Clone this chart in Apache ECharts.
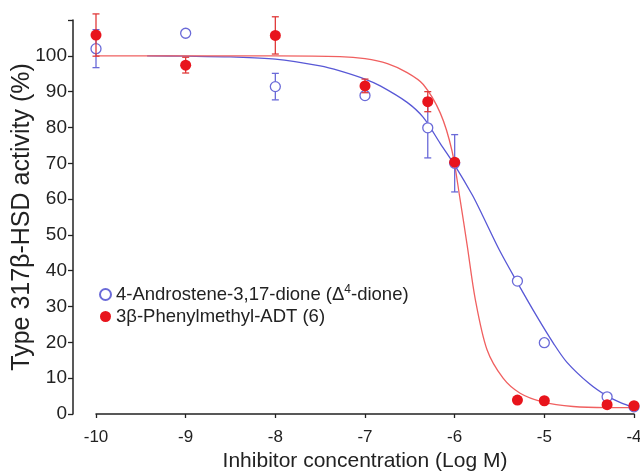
<!DOCTYPE html>
<html>
<head>
<meta charset="utf-8">
<script src="https://cdn.jsdelivr.net/npm/echarts@6/dist/echarts.min.js"></script>
<style>
html, body { margin: 0; background: #fff; }
#chart { width: 640px; height: 475px; }
</style>
</head>
<body>
<div id="chart"></div>
<script>
// measured points (log M) and % activity
const logConc = [-10, -9, -8, -7, -6.3, -6, -5.3, -5, -4.3, -4]
const dioneActivity = [102, 106.3, 91.4, 88.9, 79.9, 70, 37.1, 19.9, 4.8, 2]
const dioneError = [5.3, 0, 3.7, 0, 8.4, 8, 0, 0, 0, 0]
const adtActivity = [105.8, 97.4, 105.7, 91.6, 87.2, 70.3, 3.9, 3.7, 2.6, 2.3]
const adtError = [5.9, 2.2, 5.2, 1.9, 2.8, 0, 0, 0, 0, 0]

// fitted curves
const dioneCurveX = [-9.43, -9, -8.5, -8, -7.5, -7.28, -7, -6.83, -6.53, -6.35, -6.16, -6, -5.8, -5.69, -5.5, -5.31, -5.08, -4.9, -4.75, -4.5, -4.3, -4.15, -4]
const dioneCurveY = [100, 99.9, 99.7, 99.1, 97.2, 95.8, 93.5, 91.6, 87, 82.8, 75.5, 69.5, 61, 55.5, 45.7, 37.1, 27.1, 19.8, 14.5, 8.5, 5, 3.2, 1.8]
const adtCurveX = [-10, -9, -8, -7.28, -7, -6.75, -6.53, -6.35, -6.16, -6.03, -5.94, -5.86, -5.77, -5.64, -5.46, -5.27, -5.02, -4.68, -4.3, -4]
const adtCurveY = [100, 100, 100, 99.8, 99.2, 97.8, 95.3, 92, 84, 73.5, 60, 47, 32, 18, 10, 5.8, 3.4, 2.1, 1.8, 1.8]

const yTicks = [0, 10, 20, 30, 40, 50, 60, 70, 80, 90, 100]

const blue = '#6a6ad8'
const red = '#e8141c'
const font = '"Liberation Sans", Arial, sans-serif'

const pairs = (xs, ys) => xs.map((x, i) => [x, ys[i]])

function errorBars (values, errors, color, z) {
  return {
    type: 'custom',
    clip: false,
    z: z,
    silent: true,
    data: logConc.map((x, i) => [x, values[i] - errors[i], values[i] + errors[i]])
      .filter((d, i) => errors[i] > 0),
    encode: { x: 0, y: [1, 2] },
    renderItem (params, api) {
      const x = api.value(0)
      const lo = api.coord([x, api.value(1)])
      const hi = api.coord([x, api.value(2)])
      const w = 3.5
      const style = { stroke: color, lineWidth: 1.3 }
      return {
        type: 'group',
        children: [
          { type: 'line', shape: { x1: lo[0], y1: lo[1], x2: hi[0], y2: hi[1] }, style },
          { type: 'line', shape: { x1: lo[0] - w, y1: lo[1], x2: lo[0] + w, y2: lo[1] }, style },
          { type: 'line', shape: { x1: hi[0] - w, y1: hi[1], x2: hi[0] + w, y2: hi[1] }, style }
        ]
      }
    }
  }
}

const chart = echarts.init(document.getElementById('chart'), null, { renderer: 'canvas' })

chart.setOption({
  animation: false,
  textStyle: { fontFamily: font },
  grid: { left: 96, right: 6, top: 20, bottom: 61, outerBoundsMode: 'none' },
  legend: {
    orient: 'vertical',
    left: 94,
    top: 279,
    itemGap: 3,
    itemWidth: 11,
    itemHeight: 11,
    data: [
      { name: '4-Androstene-3,17-dione (Δ4-dione)', icon: 'circle' },
      { name: '3β-Phenylmethyl-ADT (6)', icon: 'circle' }
    ],
    formatter: name => name.replace('Δ4', 'Δ{s|4}'),
    textStyle: {
      fontFamily: font,
      fontSize: 18.5,
      color: '#222',
      rich: {
        s: { fontSize: 12, fontFamily: font, color: '#222', padding: [0, 0, 9, 0] }
      }
    }
  },
  xAxis: {
    type: 'value',
    min: -10,
    max: -4,
    interval: 1,
    name: 'Inhibitor concentration (Log M)',
    nameLocation: 'middle',
    nameGap: 37,
    nameMoveOverlap: false,
    nameTextStyle: { fontSize: 21, color: '#222', fontFamily: font },
    axisLine: { lineStyle: { color: '#222', width: 1.5 } },
    axisTick: { length: 4, lineStyle: { color: '#222', width: 1.3 } },
    axisLabel: { fontSize: 17, color: '#222', margin: 15 },
    splitLine: { show: false }
  },
  yAxis: {
    type: 'value',
    min: 0,
    max: 110,
    interval: 10,
    offset: 23,
    name: 'Type 317β-HSD activity (%)',
    nameLocation: 'middle',
    nameGap: 38,
    nameMoveOverlap: false,
    nameTextStyle: { fontSize: 25, color: '#222', fontFamily: font },
    axisLine: { show: true, lineStyle: { color: '#222', width: 1.5 } },
    axisTick: { show: true, length: 5, lineStyle: { color: '#222', width: 1.3 } },
    axisLabel: {
      fontSize: 19,
      color: '#222',
      margin: 6,
      formatter: v => (yTicks.includes(v) ? String(v) : '')
    },
    splitLine: { show: false }
  },
  series: [
    {
      type: 'line',
      data: pairs(dioneCurveX, dioneCurveY),
      smooth: 0.3,
      showSymbol: false,
      lineStyle: { color: '#5858d6', width: 1.3 },
      z: 2
    },
    {
      type: 'line',
      data: pairs(adtCurveX, adtCurveY),
      smooth: 0.3,
      showSymbol: false,
      lineStyle: { color: '#f06060', width: 1.3 },
      z: 2
    },
    errorBars(dioneActivity, dioneError, blue, 3),
    {
      name: '4-Androstene-3,17-dione (Δ4-dione)',
      type: 'scatter',
      data: pairs(logConc, dioneActivity),
      symbol: 'circle',
      symbolSize: 10,
      itemStyle: { color: '#fff', borderColor: blue, borderWidth: 1.3, opacity: 1 },
      clip: false,
      z: 4
    },
    errorBars(adtActivity, adtError, '#e03a3a', 5),
    {
      name: '3β-Phenylmethyl-ADT (6)',
      type: 'scatter',
      data: pairs(logConc, adtActivity),
      symbol: 'circle',
      symbolSize: 11,
      itemStyle: { color: red, opacity: 1 },
      clip: false,
      z: 6
    }
  ]
})
</script>
</body>
</html>
